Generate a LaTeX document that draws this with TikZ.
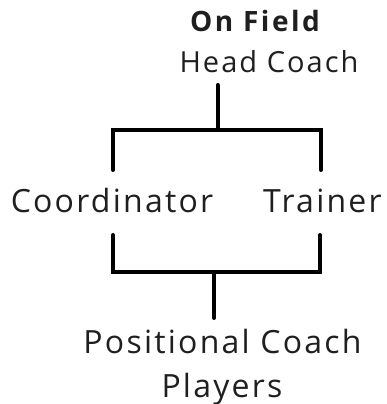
\documentclass[tikz,border=0pt]{standalone}
\usepackage{fontspec}
\setmainfont{Open Sans}
\newfontfamily\spaced[LetterSpace=7]{Open Sans}
\newfontfamily\spacedbold[LetterSpace=9]{Open Sans}
\usetikzlibrary{positioning}
\tikzset{
    every picture/.style={line width=0.5pt},
    link/.style={line width=4pt,line cap=round,draw=black},
    label/.style={anchor=base,inner sep=0pt,text=black!88}
}

\begin{document}
\begin{tikzpicture}[x=1pt,y=-1pt]
    \useasboundingbox (0,0) rectangle (386,404);

    % titles
    \node[label,font=\spacedbold\bfseries\fontsize{28}{30}\selectfont] (field) at (255,32) {On Field};
    \node[label,font=\spaced\fontsize{29}{32}\selectfont] (head) at (269,73) {Head Coach};
    \node[label,font=\spaced\fontsize{32}{36}\selectfont] (coord) at (112,212) {Coordinator};
    \node[label,font=\spaced\fontsize{32}{36}\selectfont] (train) at (322.5,212) {Trainer};
    \node[label,font=\spaced\fontsize{32}{36}\selectfont] (posit) at (222.5,353) {Positional Coach};
    \node[label,font=\spaced\fontsize{32}{36}\selectfont] (play) at (222,397) {Players};

    % connector ends
    \coordinate (headout) at (217.5,85);
    \coordinate (split) at (217.5,130);
    \coordinate (coordin) at (113,170);
    \coordinate (trainin) at (321,170);
    \coordinate (coordout) at (113,235);
    \coordinate (trainout) at (320,235);
    \coordinate (join) at (214,272);
    \coordinate (positin) at (214,318);

    \draw[link] (headout) -- (split);
    \draw[link] (coordin) |- (split) -| (trainin);
    \draw[link] (coordout) |- (join) -| (trainout);
    \draw[link] (join) -- (positin);
\end{tikzpicture}
\end{document}
